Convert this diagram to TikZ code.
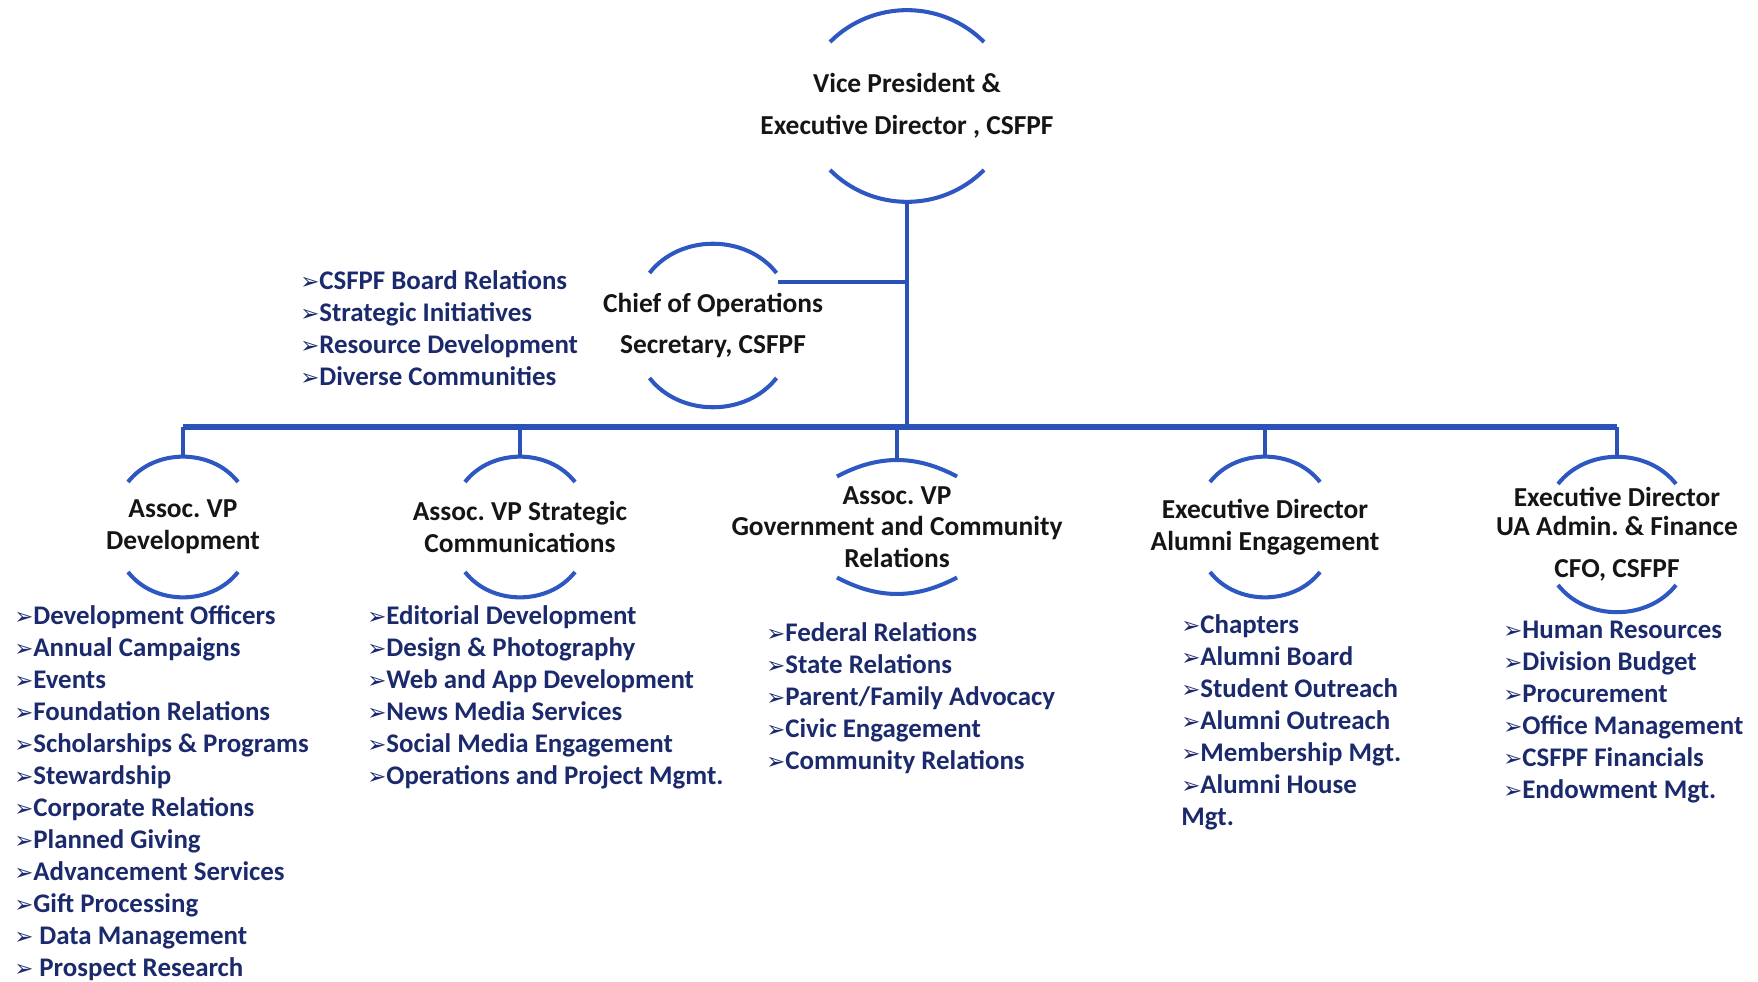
\documentclass[tikz,border=0pt]{standalone}
\usepackage{fontspec}
\setmainfont{Carlito}
\newfontfamily\symfont{DejaVu Sans}
\usepackage{xcolor}
\usetikzlibrary{positioning}

\definecolor{capblue}{HTML}{2D58C2}
\definecolor{linkblue}{HTML}{2A52B8}
\definecolor{itemnavy}{HTML}{1B2A6C}
\definecolor{titleink}{HTML}{151515}

\newcommand{\bul}{\makebox[0.38cm][l]{\symfont\fontsize{13}{13}\selectfont ➢}}
\frenchspacing

\begin{document}
\begin{tikzpicture}[
  title/.style={align=center, inner sep=0pt, text=titleink, font=\bfseries\fontsize{15.6}{18}\selectfont},
  items/.style={align=left, inner sep=0pt, anchor=west, text=itemnavy, font=\bfseries\fontsize{15.3}{18.2}\selectfont},
  arcline/.style={capblue, line width=2.3pt},
  link/.style={linkblue, line width=2.2pt},
  busline/.style={linkblue, line width=3.2pt}
]
\useasboundingbox (0,0) rectangle (35.16,19.62);

% Top of the chart
\node[title] (vp) at (18.14,17.50) {Vice President \&\\[6pt]Executive Director , CSFPF};
\node[title] (chief) at (14.26,13.11) {Chief of Operations\\[4.8pt]Secretary, CSFPF};
\node[items] (chiefitems) at (6.00,13.06) {\bul CSFPF Board Relations\\ \bul Strategic Initiatives\\ \bul Resource Development\\ \bul Diverse Communities};

% Second row
\node[title] (dev) at (3.66,9.08) {Assoc. VP\\Development};
\node[title] (comms) at (10.40,9.08) {Assoc. VP Strategic\\Communications};
\node[title] (gov) at (17.94,9.08) {Assoc. VP\\Government and Community\\Relations};
\node[title] (alumni) at (25.30,9.08) {Executive Director\\Alumni Engagement};
\node[title] (ua) at (32.34,8.93) {Executive Director\\[-1.5pt]UA Admin. \& Finance\\[6pt]CFO, CSFPF};

% Item lists
\node[items] (devitems) at (0.28,3.76) {\bul Development Officers\\ \bul Annual Campaigns\\ \bul Events\\ \bul Foundation Relations\\ \bul Scholarships \& Programs\\ \bul Stewardship\\ \bul Corporate Relations\\ \bul Planned Giving\\ \bul Advancement Services\\ \bul Gift Processing\\ \bul\ Data Management\\ \bul\ Prospect Research};
\node[items] (commsitems) at (7.34,5.68) {\bul Editorial Development\\ \bul Design \& Photography\\ \bul Web and App Development\\ \bul News Media Services\\ \bul Social Media Engagement\\ \bul Operations and Project Mgmt.};
\node[items] (govitems) at (15.32,5.65) {\bul Federal Relations\\ \bul State Relations\\ \bul Parent/Family Advocacy\\ \bul Civic Engagement\\ \bul Community Relations};
\node[items] (alumniitems) at (23.62,5.17) {\bul Chapters\\ \bul Alumni Board\\ \bul Student Outreach\\ \bul Alumni Outreach\\ \bul Membership Mgt.\\ \bul Alumni House\\Mgt.};
\node[items] (uaitems) at (30.06,5.37) {\bul Human Resources\\ \bul Division Budget\\ \bul Procurement\\ \bul Office Management\\ \bul CSFPF Financials\\ \bul Endowment Mgt.};

% Arcs round the titles
\draw[arcline] (vp.center) ++(-1.54,1.28) to[bend left=45] ++(3.08,0);
\draw[arcline] (vp.center) ++(-1.54,-1.28) to[bend right=45] coordinate[midway] (vpfoot) ++(3.08,0);
\draw[arcline] (chief.center) ++(-1.27,1.05) to[bend left=52] ++(2.54,0);
\draw[arcline] (chief.center) ++(-1.27,-1.05) to[bend right=52] ++(2.54,0);
\draw[arcline] (dev.center) ++(-1.1,0.9) to[bend left=52] coordinate[midway] (devtop) ++(2.2,0);
\draw[arcline] (dev.center) ++(-1.1,-0.9) to[bend right=52] ++(2.2,0);
\draw[arcline] (comms.center) ++(-1.1,0.9) to[bend left=52] coordinate[midway] (commstop) ++(2.2,0);
\draw[arcline] (comms.center) ++(-1.1,-0.9) to[bend right=52] ++(2.2,0);
\draw[arcline] (gov.center) ++(-1.2,1.01) to[bend left=28] coordinate[midway] (govtop) ++(2.4,0);
\draw[arcline] (gov.center) ++(-1.2,-1.01) to[bend right=28] ++(2.4,0);
\draw[arcline] (alumni.center) ++(-1.1,0.9) to[bend left=52] coordinate[midway] (alumnitop) ++(2.2,0);
\draw[arcline] (alumni.center) ++(-1.1,-0.9) to[bend right=52] ++(2.2,0);
\draw[arcline] (ua.center) ++(-1.18,1.01) to[bend left=52] coordinate[midway] (uatop) ++(2.36,0);
\draw[arcline] (ua.center) ++(-1.18,-1.01) to[bend right=52] ++(2.36,0);

% Connectors
\coordinate (bus) at (18.14,11.08);
\coordinate (chiefjoin) at ([shift={(1.3,0.87)}]chief.center);
\draw[link] (vpfoot) -- (vpfoot |- bus);
\draw[link] (chiefjoin) -- (chiefjoin -| vpfoot);
\draw[busline] (devtop |- bus) -- (uatop |- bus);
\draw[link] (devtop |- bus) -- (devtop);
\draw[link] (commstop |- bus) -- (commstop);
\draw[link] (govtop |- bus) -- (govtop);
\draw[link] (alumnitop |- bus) -- (alumnitop);
\draw[link] (uatop |- bus) -- (uatop);

\end{tikzpicture}
\end{document}
